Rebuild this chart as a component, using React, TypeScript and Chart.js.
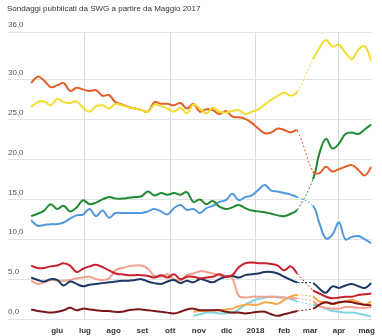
import React, { useEffect, useRef } from "react";
import { Chart, registerables } from "chart.js";

Chart.register(...registerables);

const TITLE = "Sondaggi pubblicati da SWG a partire da Maggio 2017";

// poll dates
const POLL_DATES = [
  "2017-05-04", "2017-05-11", "2017-05-18", "2017-05-25",
  "2017-06-01", "2017-06-08", "2017-06-15", "2017-06-22", "2017-06-29",
  "2017-07-06", "2017-07-13", "2017-07-20", "2017-07-27",
  "2017-08-03", "2017-08-10", "2017-08-17", "2017-08-24", "2017-08-31",
  "2017-09-07", "2017-09-14", "2017-09-21", "2017-09-28",
  "2017-10-05", "2017-10-12", "2017-10-19", "2017-10-26",
  "2017-11-02", "2017-11-09", "2017-11-16", "2017-11-23", "2017-11-30",
  "2017-12-07", "2017-12-14", "2017-12-21", "2017-12-28",
  "2018-01-04", "2018-01-11", "2018-01-18", "2018-01-25",
  "2018-02-01", "2018-02-08", "2018-02-15",
  "2018-03-04", "2018-03-11", "2018-03-18", "2018-03-25",
  "2018-04-01", "2018-04-08", "2018-04-15", "2018-04-22", "2018-04-29",
  "2018-05-06",
];

const TICK_DATES = [
  "2017-06-01", "2017-07-01", "2017-08-01", "2017-09-01", "2017-10-01", "2017-11-01",
  "2017-12-01", "2018-01-01", "2018-02-01", "2018-03-01", "2018-04-01", "2018-05-01",
];
const TICK_LABELS = ["giu", "lug", "ago", "set", "ott", "nov", "dic", "2018", "feb", "mar", "apr", "mag"];
const GRID_MONTHS = ["2017-07-01", "2017-10-01", "2018-01-01", "2018-04-01"];
const Y_TICKS = [0, 5, 10, 15, 20, 25, 30, 36];

const M5S = [
  26.6, 27.2, 27.3, 26.8, 27.6, 27.2, 27.1, 27.3, 26.5, 26.0, 26.7, 26.8, 26.4, 27.0,
  26.8, 26.6, 26.4, 26.2, 26.0, 26.9, 26.7, 26.4, 26.0, 26.5, 25.8, 26.9, 26.4, 25.8,
  26.5, 26.0, 25.9, 26.1, 26.2, 25.7, 26.0, 26.3, 26.9, 27.5, 28.0, 28.4, 28.0, 28.5,
  32.6, 34.0, 35.0, 34.2, 34.4, 33.4, 32.6, 33.8, 34.2, 32.3,
];
const PD = [
  29.6, 30.4, 29.9, 29.1, 29.3, 29.6, 28.6, 29.0, 28.8, 28.6, 28.7, 28.0, 28.1, 27.2,
  26.9, 26.6, 26.4, 26.2, 26.0, 27.2, 27.0, 27.0, 26.8, 27.1, 26.4, 27.0, 26.0, 26.3,
  26.2, 25.7, 26.1, 25.4, 25.3, 25.1, 24.6, 23.9, 23.3, 23.4, 23.9, 23.7, 23.4, 23.6,
  18.5, 18.3, 19.1, 18.5, 18.8, 19.1, 19.3, 18.7, 18.0, 19.1,
];
const LEGA = [
  12.9, 13.2, 13.6, 14.4, 13.8, 14.2, 13.5, 14.0, 14.9, 14.4, 14.6, 15.0, 15.3, 15.1,
  15.1, 15.2, 15.3, 15.4, 16.0, 15.5, 15.8, 15.6, 15.8, 15.6, 15.9, 14.7, 15.0, 14.4,
  14.8, 14.1, 13.8, 14.0, 14.3, 13.9, 13.6, 13.5, 13.4, 13.2, 13.0, 12.9, 13.2, 13.7,
  17.5, 20.8, 22.6, 21.4, 22.0, 23.2, 23.4, 23.2, 23.8, 24.4,
];
const FI = [
  12.4, 11.7, 11.8, 11.9, 11.9, 12.1, 12.6, 13.0, 13.1, 13.8, 12.9, 13.6, 12.7, 13.3,
  13.3, 13.3, 13.3, 13.3, 13.5, 13.8, 13.5, 13.1, 13.9, 14.3, 13.7, 13.8, 13.3, 13.9,
  14.2, 14.7, 14.9, 15.7, 14.9, 15.3, 15.5, 16.2, 16.8, 16.1, 16.0, 15.8, 15.6, 15.3,
  14.2, 12.0, 10.1, 10.6, 12.1, 10.0, 10.3, 10.4, 10.0, 9.5,
];
const LEU = [
  6.7, 6.4, 6.4, 6.6, 6.7, 7.0, 6.7, 5.9, 6.3, 6.6, 6.8, 6.5, 6.1, 5.7,
  5.6, 5.5, 5.5, 5.5, 5.4, 5.2, 5.5, 5.2, 5.6, 5.0, 5.3, 5.3, 5.1, 5.2,
  5.3, 5.6, 5.3, 5.5, 6.5, 7.0, 7.1, 7.0, 7.0, 6.9, 6.7, 6.1, 6.6, 5.7,
  3.6, 3.2, 2.8, 2.6, 2.7, 2.8, 2.8, 3.0, 3.1, 3.2,
];
const FDI = [
  5.2, 4.9, 4.7, 5.0, 4.9, 4.2, 4.7, 4.4, 4.1, 4.3, 4.4, 4.5, 4.6, 4.7,
  4.8, 4.8, 4.9, 5.0, 4.7, 4.5, 4.4, 4.7, 4.9, 4.5, 4.8, 4.6, 5.0, 4.8,
  4.6, 5.0, 5.3, 5.4, 5.2, 5.5, 5.6, 5.7, 5.9, 5.9, 5.7, 5.3, 4.9, 4.6,
  4.5, 3.8, 3.3, 4.1, 3.9, 4.2, 4.4, 4.1, 3.9, 4.5,
];
const SALMON = [
  4.8, 4.4, 4.6, 4.9, 4.8, 4.8, 4.9, 5.1, 5.2, 5.3, 5.0, 4.9, 5.1, 6.1,
  6.4, 6.6, 6.7, 6.7, 6.3, 5.4, 5.3, 5.6, 5.0, 4.8, 5.5, 5.7, 6.0, 5.9,
  5.7, 5.5, 5.4, 5.1, 2.9, 2.7, 2.8, 2.8, 2.8, 2.8, 2.7, 2.7, 2.6, 2.6,
  2.2, 1.6, 1.4, 1.3, 1.3, 1.5, 1.5, 1.4, 1.4, 1.5,
];
const DARKRED = [
  1.2, 1.0, 0.9, 0.8, 0.9, 1.1, 1.4, 1.1, 1.3, 1.2, 1.1, 1.0, 1.0, 0.9,
  0.9, 1.1, 1.2, 1.2, 1.1, 1.0, 0.9, 0.8, 0.7, 0.9, 1.2, 1.3, 1.1, 1.1,
  1.1, 1.1, 0.9, 0.8, 0.8, 0.7, 0.8, 0.9, 0.9, 0.6, 0.4, 0.6, 0.8, 1.0,
  1.3, 1.8, 2.1, 1.9, 2.1, 2.2, 2.1, 1.9, 1.8, 1.7,
];
const ORANGE = [
  null, null, null, null, null, null, null, null, null, null, null, null, null, null,
  null, null, null, null, null, null, null, null, null, null, null, 0.9, 1.0, 1.0,
  1.1, 1.1, 1.2, 1.3, 1.6, 1.8, 1.8, 1.8, 2.1, 2.0, 1.9, 2.4, 2.8, 3.0,
  2.8, 2.2, 2.1, 1.9, 2.0, 2.2, 2.4, 2.1, 1.8, 2.2,
];
const CYAN = [
  null, null, null, null, null, null, null, null, null, null, null, null, null, null,
  null, null, null, null, null, null, null, null, null, null, null, 0.4, 0.6, 0.8,
  0.8, 0.7, 0.7, 0.8, 1.2, 1.8, 2.2, 2.5, 2.7, 2.8, 2.8, 2.7, 2.5, 2.2,
  1.8, 1.6, 1.3, 1.0, 0.9, 0.8, 0.8, 0.7, 0.5, 0.3,
];

const SERIES = [
  { values: M5S, color: "#f2dd2e" },
  { values: PD, color: "#e3602a" },
  { values: LEGA, color: "#1f8a30" },
  { values: FI, color: "#5297dc" },
  { values: LEU, color: "#c9202f" },
  { values: FDI, color: "#1c3966" },
  { values: DARKRED, color: "#7c1717" },
  { values: SALMON, color: "#f2a090" },
  { values: ORANGE, color: "#f5a742" },
  { values: CYAN, color: "#80d4e2" },
];

const START = Date.UTC(2017, 4, 1);
const toDay = (s: string) => {
  const [y, m, d] = s.split("-").map(Number);
  return (Date.UTC(y, m - 1, d) - START) / 86400000;
};

const POLL_DAYS = POLL_DATES.map(toDay);
const TICK_DAYS = TICK_DATES.map(toDay);
const GRID_DAYS = GRID_MONTHS.map(toDay);

const titlePlugin = {
  id: "leftTitle",
  afterDraw(chart: any) {
    const ctx = chart.ctx;
    ctx.save();
    ctx.font = '8px "Liberation Sans", Arial, sans-serif';
    ctx.fillStyle = "#333";
    ctx.textAlign = "left";
    ctx.textBaseline = "middle";
    ctx.fillText(TITLE, 7, 8.5);
    ctx.restore();
  },
};

export default function App() {
  const ref = useRef<HTMLCanvasElement>(null);
  useEffect(() => {
    if (!ref.current) return;
    const isGap = (c: any) => c.p1.parsed.x - c.p0.parsed.x > 10;
    const datasets = SERIES.map((s) => ({
      data: s.values.map((v, i) => ({ x: POLL_DAYS[i], y: v })),
      borderColor: s.color,
      backgroundColor: s.color,
      borderWidth: 2,
      pointRadius: 0,
      tension: 0.4,
      fill: false,
      spanGaps: false,
      segment: {
        borderDash: (c: any) => (isGap(c) ? [2, 2] : undefined),
        borderWidth: (c: any) => (isGap(c) ? 1 : undefined),
      },
    }));
    const chart = new Chart(ref.current, {
      type: "line",
      data: { datasets },
      options: {
        animation: false,
        responsive: false,
        devicePixelRatio: 1,
        layout: { padding: { left: 8, right: 4, top: 32, bottom: 0 } },
        plugins: { legend: { display: false }, tooltip: { enabled: false }, title: { display: false } },
        scales: {
          x: {
            type: "linear",
            min: -22,
            max: 370.3,
            afterBuildTicks: (s: any) => {
              s.ticks = TICK_DAYS.map((v) => ({ value: v }));
            },
            afterFit: (s: any) => {
              s.height = 17;
            },
            grid: {
              color: (c: any) => (c.tick && GRID_DAYS.includes(c.tick.value) ? "#dadada" : "rgba(0,0,0,0)"),
              drawTicks: false,
              lineWidth: 1,
            },
            border: { display: false },
            ticks: {
              autoSkip: false,
              maxRotation: 0,
              padding: 7,
              color: "#333",
              font: { family: '"Liberation Sans", Arial, sans-serif', size: 8, weight: "bold" },
              callback: (_v: any, i: number) => TICK_LABELS[i],
            },
          },
          y: {
            min: 0,
            max: 36,
            afterBuildTicks: (s: any) => {
              s.ticks = Y_TICKS.map((v) => ({ value: v }));
            },
            afterFit: (s: any) => {
              s.width = 0;
            },
            grid: { color: "#e2e2e2", drawTicks: false, lineWidth: 1 },
            border: { display: false },
            ticks: {
              mirror: true,
              padding: 0,
              labelOffset: -7,
              color: "#555",
              font: { family: '"Liberation Sans", Arial, sans-serif', size: 8 },
              callback: (v: any) => Number(v).toFixed(1).replace(".", ","),
            },
          },
        },
      },
      plugins: [titlePlugin],
    });
    return () => chart.destroy();
  }, []);
  return (
    <div style={{ position: "absolute", left: 0, top: 0, width: 382, height: 336 }}>
      <canvas ref={ref} width={382} height={336} style={{ display: "block" }} />
    </div>
  );
}
